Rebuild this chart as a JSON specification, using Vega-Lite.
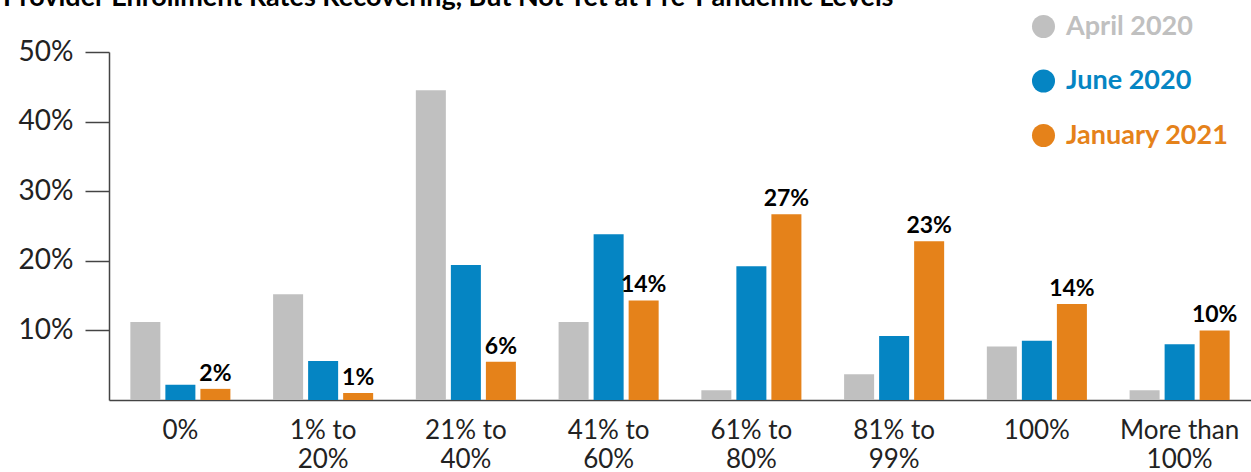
{
  "$schema": "https://vega.github.io/schema/vega-lite/v6.json",
  "width": 1142,
  "height": 348,
  "autosize": {"type": "none"},
  "padding": {"left": 109, "top": 52, "right": 0, "bottom": 72},
  "background": "white",
  "title": {
    "text": "Provider Enrollment Rates Recovering, But Not Yet at Pre-Pandemic Levels",
    "anchor": "start",
    "frame": "group",
    "font": "Lato",
    "fontWeight": "bold",
    "fontSize": 27,
    "color": "#000000",
    "baseline": "alphabetic",
    "offset": 4,
    "dy": 24,
    "dx": -106
  },
  "config": {
    "font": "Lato",
    "view": {"stroke": null}
  },
  "data": {
    "values": [
      {"range": "0%", "series": "April 2020", "value": 0.112},
      {"range": "0%", "series": "June 2020", "value": 0.022},
      {"range": "0%", "series": "January 2021", "value": 0.016},
      {"range": "1% to 20%", "series": "April 2020", "value": 0.152},
      {"range": "1% to 20%", "series": "June 2020", "value": 0.056},
      {"range": "1% to 20%", "series": "January 2021", "value": 0.010},
      {"range": "21% to 40%", "series": "April 2020", "value": 0.445},
      {"range": "21% to 40%", "series": "June 2020", "value": 0.194},
      {"range": "21% to 40%", "series": "January 2021", "value": 0.055},
      {"range": "41% to 60%", "series": "April 2020", "value": 0.112},
      {"range": "41% to 60%", "series": "June 2020", "value": 0.238},
      {"range": "41% to 60%", "series": "January 2021", "value": 0.143},
      {"range": "61% to 80%", "series": "April 2020", "value": 0.014},
      {"range": "61% to 80%", "series": "June 2020", "value": 0.192},
      {"range": "61% to 80%", "series": "January 2021", "value": 0.267},
      {"range": "81% to 99%", "series": "April 2020", "value": 0.037},
      {"range": "81% to 99%", "series": "June 2020", "value": 0.092},
      {"range": "81% to 99%", "series": "January 2021", "value": 0.228},
      {"range": "100%", "series": "April 2020", "value": 0.077},
      {"range": "100%", "series": "June 2020", "value": 0.085},
      {"range": "100%", "series": "January 2021", "value": 0.138},
      {"range": "More than 100%", "series": "April 2020", "value": 0.014},
      {"range": "More than 100%", "series": "June 2020", "value": 0.080},
      {"range": "More than 100%", "series": "January 2021", "value": 0.100}
    ]
  },
  "encoding": {
    "x": {
      "field": "range",
      "type": "nominal",
      "sort": null,
      "scale": {"paddingInner": 0.264, "paddingOuter": 0.132},
      "axis": {
        "title": null,
        "labelAngle": 0,
        "labelFont": "Lato",
        "labelFontSize": 26,
        "labelColor": "#222222",
        "labelPadding": 17,
        "labelLineHeight": 29,
        "labelBaseline": "top",
        "ticks": false,
        "domainColor": "#444444",
        "domainWidth": 1.5,
        "labelExpr": "split(replace(replace(datum.label, ' to ', ' to|'), 'than ', 'than|'), '|')"
      }
    },
    "xOffset": {
      "field": "series",
      "type": "nominal",
      "scale": {
        "domain": ["April 2020", "June 2020", "January 2021"],
        "paddingInner": 0.143,
        "paddingOuter": 0.0715
      }
    },
    "y": {
      "field": "value",
      "type": "quantitative",
      "scale": {"domain": [0, 0.5], "nice": false},
      "axis": {
        "title": null,
        "values": [0.1, 0.2, 0.3, 0.4, 0.5],
        "format": ".0%",
        "grid": false,
        "labelFont": "Lato",
        "labelFontSize": 28,
        "labelColor": "#222222",
        "labelPadding": 12,
        "tickSize": 24,
        "tickColor": "#444444",
        "tickWidth": 1.5,
        "domainColor": "#444444",
        "domainWidth": 1.5
      }
    }
  },
  "layer": [
    {
      "mark": {"type": "bar"},
      "encoding": {
        "color": {
          "field": "series",
          "type": "nominal",
          "scale": {
            "domain": ["April 2020", "June 2020", "January 2021"],
            "range": ["#c0c0c0", "#0585c3", "#e5821a"]
          },
          "legend": {
            "title": null,
            "orient": "none",
            "legendX": 921,
            "legendY": -39,
            "padding": 0,
            "symbolType": "circle",
            "symbolSize": 530,
            "symbolStrokeWidth": 0,
            "symbolOpacity": 1,
            "labelFont": "Lato",
            "labelFontSize": 27,
            "labelFontWeight": "bold",
            "labelOffset": 9,
            "rowPadding": 26.5,
            "labelLimit": 300,
            "encode": {
              "labels": {"update": {"fill": {"scale": "color", "field": "value"}}}
            }
          }
        }
      }
    },
    {
      "transform": [{"filter": "datum.series === 'January 2021'"}],
      "mark": {
        "type": "text",
        "font": "Lato",
        "fontSize": 23,
        "fontWeight": "bold",
        "color": "#000000",
        "baseline": "bottom",
        "dy": -3
      },
      "encoding": {
        "text": {"field": "value", "type": "quantitative", "format": ".0%"}
      }
    }
  ]
}
